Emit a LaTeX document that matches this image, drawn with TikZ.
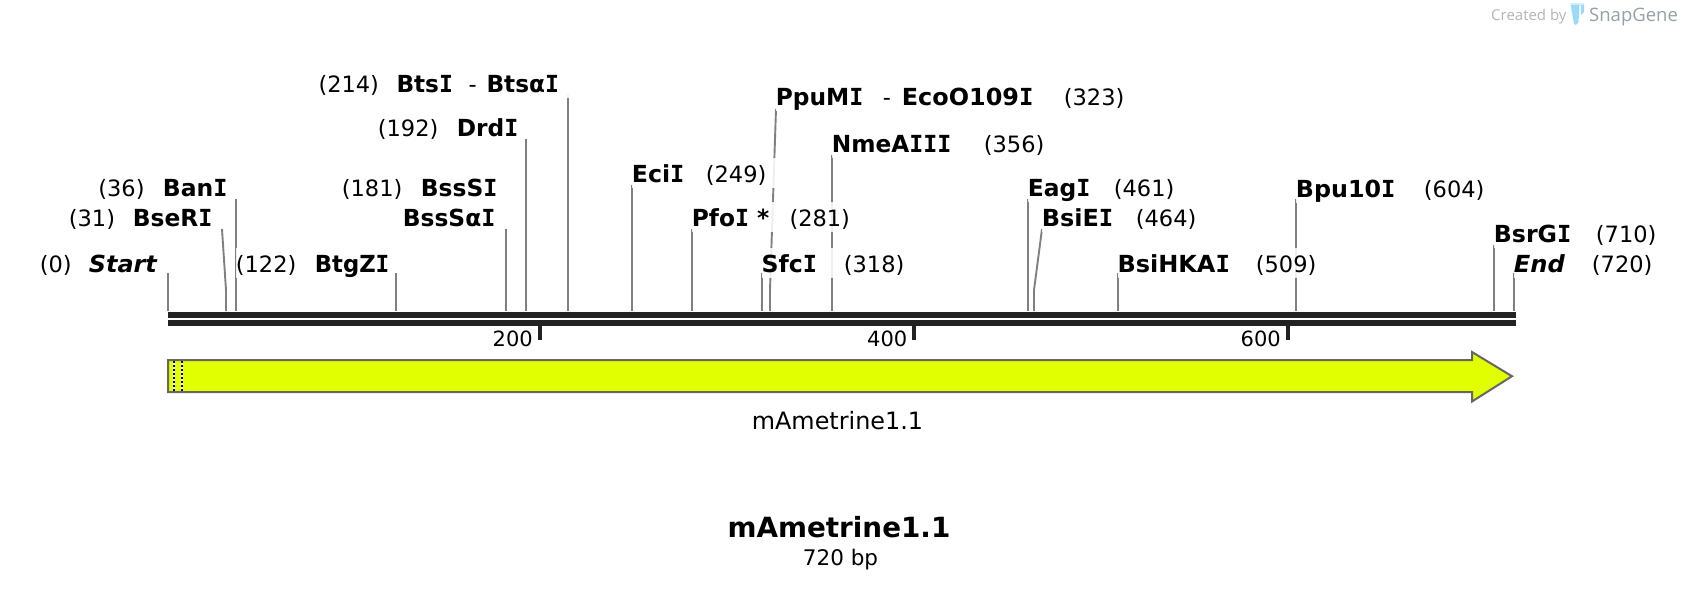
\documentclass[tikz,border=0pt]{standalone}
\usepackage{fontspec}
\usepackage{graphicx}
\setmainfont{DejaVu Sans}
\newfontfamily\wmfont{Open Sans}
\newfontfamily\dvmono{DejaVu Sans Mono}
\definecolor{sitegray}{HTML}{808080}
\definecolor{bardark}{HTML}{222222}
\definecolor{featfill}{HTML}{E2FF00}
\definecolor{featline}{HTML}{666666}
\definecolor{wmgray}{HTML}{B4B4B4}
\definecolor{wmdark}{HTML}{95A0A8}
\definecolor{wmblue}{HTML}{9ADAF7}
\definecolor{wmpale}{HTML}{CDEEFB}
\newcommand{\II}{{\dvmono I}}
\newcommand{\nm}[2]{\resizebox{\dimexpr#1pt+2.5pt\relax}{\height}{\fontsize{23.5}{24}\selectfont\bfseries #2}}
\newcommand{\nmi}[2]{\resizebox{\dimexpr#1pt+2pt\relax}{\height}{\fontsize{23.5}{24}\selectfont\bfseries\itshape #2}}
\newcommand{\num}[1]{\fontsize{22.5}{22.5}\selectfont #1}
\newcommand{\place}[2]{\rlap{\hspace*{#1pt}#2}}
\tikzset{
  x=1pt,y=-1pt,
  sitelabel/.style={anchor=base west,inner sep=0pt,text height=24.7pt,text depth=5.3pt,fill=white,fill opacity=0.87,text opacity=1,align=left},
  siteline/.style={draw=sitegray,line width=1.9pt},
  rulerbar/.style={fill=bardark,draw=none},
  tickmark/.style={fill=bardark,draw=none},
  ticklabel/.style={anchor=base east,inner sep=0pt,font=\fontsize{21}{21}\selectfont},
  feature/.style={draw=featline,line width=2pt,fill=featfill,miter limit=10},
}
\newcommand{\lab}[5]{\node[sitelabel] (#1) at (#2-1.3,#3+0.7) {\makebox[#4pt][l]{#5}};}
\begin{document}
\begin{tikzpicture}
\useasboundingbox (0,0) rectangle (1684,590);
% site line end points
\foreach \n/\x/\t in {start/168/273,ban/235.7/199,btg/396/273,bsa/506/229,drd/526/139,bts/568/95,eci/632/185,pfo/692/229,sfc/762/273,nme/832/155,eag/1028/199,hka/1118/273,bpu/1296/199,bsr/1494/245,endd/1514/273}{
  \coordinate (t\n) at (\x,\t);
  \coordinate (b\n) at (\x,311);
  \draw[siteline] (t\n) -- (b\n);
}
\coordinate (tbse) at (222,229); \coordinate (mbse) at (226,290); \coordinate (bbse) at (226,311);
\draw[siteline] (tbse) -- (mbse) -- (bbse);
\coordinate (tppu) at (776,109); \coordinate (mppu) at (770,290); \coordinate (bppu) at (770,311);
\draw[siteline] (tppu) -- (mppu) -- (bppu);
\coordinate (tbsi) at (1042,229); \coordinate (mbsi) at (1034,290); \coordinate (bbsi) at (1034,311);
\draw[siteline] (tbsi) -- (mbsi) -- (bbsi);
% labels
\lab{lstart}{41}{271.7}{122}{\place{0}{\num{(0)}}\place{49}{\nmi{66}{Start}}}
\lab{lbse}{70}{225.7}{148}{\place{0}{\num{(31)}}\place{64}{\nm{77}{BseR\II}}}
\lab{lban}{99.5}{195.7}{133}{\place{0}{\num{(36)}}\place{64.5}{\nm{62}{Ban\II}}}
\lab{lbtg}{237}{271.7}{158}{\place{0}{\num{(122)}}\place{79}{\nm{72}{BtgZ\II}}}
\lab{lbss}{343}{195.7}{160}{\place{0}{\num{(181)}}\place{79}{\nm{74}{BssS\II}}}
\lab{lbsa}{404}{225.7}{97}{\place{0}{\nm{90}{BssSα\II}}}
\lab{ldrd}{379}{135.7}{145}{\place{0}{\num{(192)}}\place{79}{\nm{59}{Drd\II}}}
\lab{lbts}{319.6}{91.7}{252}{\place{0}{\num{(214)}}\place{78}{\nm{54}{Bts\II}}\place{150}{\num{-}}\place{168}{\nm{70}{Btsα\II}}}
\lab{leci}{633}{181.7}{145}{\place{0}{\nm{50}{Eci\II}}\place{74}{\num{(249)}}}
\lab{lpfo}{693}{225.7}{165}{\place{0}{\nm{75}{Pfo\II{} *}}\place{97.6}{\num{(281)}}}
\lab{lsfc}{762.6}{271.7}{148}{\place{0}{\nm{53}{Sfc\II}}\place{82.4}{\num{(318)}}}
\lab{lppu}{777}{105}{350}{\place{0}{\nm{85}{PpuM\II}}\place{107}{\num{-}}\place{126}{\nm{129}{EcoO109\II}}\place{288}{\num{(323)}}}
\lab{lnme}{833}{151.7}{218}{\place{0}{\nm{117}{NmeA\II\II\II}}\place{152}{\num{(356)}}}
\lab{leag}{1029}{195.7}{146}{\place{0}{\nm{60}{Eag\II}}\place{86}{\num{(461)}}}
\lab{lbsi}{1043}{225.7}{160}{\place{0}{\nm{69}{BsiE\II}}\place{94}{\num{(464)}}}
\lab{lhka}{1118.6}{271.7}{205}{\place{0}{\nm{110}{BsiHKA\II}}\place{138.4}{\num{(509)}}}
\lab{lbpu}{1297}{196.7}{194}{\place{0}{\nm{97}{Bpu10\II}}\place{128}{\num{(604)}}}
\lab{lbsr}{1495}{241.7}{170}{\place{0}{\nm{75}{BsrG\II}}\place{102}{\num{(710)}}}
\lab{lend}{1515}{271.7}{145}{\place{0}{\nmi{49}{End}}\place{78}{\num{(720)}}}
% ruler
\fill[rulerbar] (168,312) rectangle (1516,318);
\fill[rulerbar] (168,320) rectangle (1516,326);
\fill[tickmark] (537.5,326) rectangle (541.5,340);
\fill[tickmark] (912,326) rectangle (916,340);
\fill[tickmark] (1286,326) rectangle (1290,340);
\node[ticklabel] (t200) at (533,346) {200};
\node[ticklabel] (t400) at (907.5,346) {400};
\node[ticklabel] (t600) at (1281,346) {600};
% feature arrow
\draw[feature] (168,360) -- (1472,360) -- (1472,352) -- (1512,376.2) -- (1472,401.5) -- (1472,392) -- (168,392) -- cycle;
\draw[line width=2pt,white] (174,361) -- (174,391) (182,361) -- (182,391);
\draw[line width=2pt,black,dash pattern=on 2pt off 2pt] (174,361) -- (174,391) (182,361) -- (182,391);
\node[anchor=base,inner sep=0pt,font=\fontsize{23.9}{24}\selectfont] (flabel) at (837.5,429) {mAmetrine1.1};
\node[anchor=base,inner sep=0pt,font=\fontsize{27.8}{28}\selectfont\bfseries] (title) at (839,537) {mAmetrine1.1};
\node[anchor=base,inner sep=0pt,font=\fontsize{21.5}{22}\selectfont] (size) at (840.5,565) {720 bp};
% watermark
\node[anchor=base west,inner sep=0pt,text=wmgray,font=\wmfont\fontsize{15}{16}\selectfont] (wm1) at (1491,20.5) {Created by};
\fill[wmpale] (1570.5,3) -- (1584,3.5) -- (1584,5.5) -- (1570.5,5.5) -- cycle;
\fill[wmblue] (1571,5) -- (1579.5,5) -- (1578.5,22) -- (1576,25) -- (1574,24) -- (1571.5,10) -- cycle;
\fill[wmblue] (1581,5) -- (1584,5) -- (1584,12) -- (1581,15) -- cycle;
\node[anchor=base west,inner sep=0pt,text=wmdark,font=\wmfont\fontsize{18.5}{19}\selectfont] (wm2) at (1589,21) {SnapGene};
\end{tikzpicture}
\end{document}
